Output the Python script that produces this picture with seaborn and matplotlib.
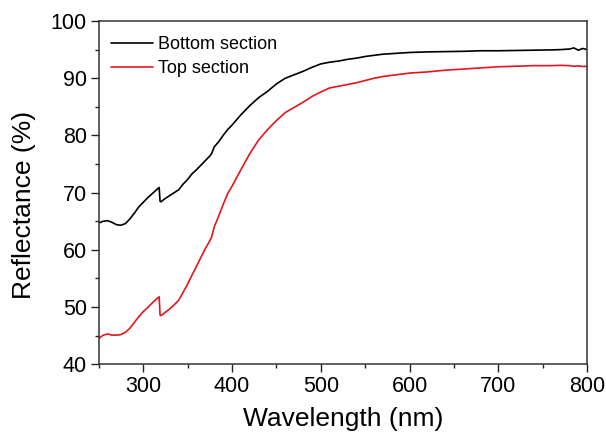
import numpy as np
import pandas as pd
import matplotlib
matplotlib.use("Agg")
import matplotlib.pyplot as plt
from matplotlib.ticker import MultipleLocator
import seaborn as sns

wavelength = [250, 255, 260, 265, 270, 275, 280, 285, 290, 295, 300, 305, 310, 315, 318, 319,
              320, 325, 330, 335, 340, 345, 350, 355, 360, 365, 370, 375, 377, 380, 385, 390,
              395, 400, 410, 420, 430, 440, 450, 460, 470, 480, 490, 500, 510, 520, 530, 540,
              550, 560, 570, 580, 590, 600, 620, 640, 660, 680, 700, 720, 740, 760, 770, 780,
              785, 790, 795, 800]

bottom_section = [64.7, 65.0, 65.1, 64.8, 64.4, 64.3, 64.6, 65.4, 66.4, 67.5, 68.3, 69.1, 69.8, 70.5, 70.9, 68.5,
                  68.4, 69.0, 69.5, 70.0, 70.5, 71.5, 72.3, 73.3, 74.0, 74.8, 75.6, 76.4, 76.8, 78.0, 78.9, 80.0,
                  81.0, 81.8, 83.6, 85.2, 86.6, 87.7, 89.0, 90.0, 90.6, 91.2, 91.9, 92.5, 92.8, 93.0, 93.3, 93.5,
                  93.8, 94.0, 94.2, 94.3, 94.4, 94.5, 94.6, 94.65, 94.7, 94.8, 94.8, 94.85, 94.9, 94.95, 95.0, 95.1,
                  95.3, 94.9, 95.2, 95.0]

top_section = [44.5, 45.1, 45.3, 45.1, 45.1, 45.2, 45.6, 46.3, 47.3, 48.3, 49.2, 49.9, 50.7, 51.4, 51.8, 48.6,
               48.5, 49.1, 49.7, 50.4, 51.2, 52.6, 54.0, 55.6, 57.1, 58.7, 60.2, 61.6, 62.2, 64.0, 65.9, 67.9,
               69.8, 71.1, 74.0, 76.8, 79.2, 81.0, 82.6, 84.0, 84.9, 85.8, 86.8, 87.6, 88.3, 88.6, 88.9, 89.2,
               89.6, 90.0, 90.3, 90.5, 90.7, 90.9, 91.1, 91.4, 91.6, 91.8, 92.0, 92.1, 92.2, 92.2, 92.25, 92.2,
               92.1, 92.15, 92.05, 92.1]

series_names = ["Bottom section", "Top section"]
series_colors = ["#000000", "#e3161b"]

df = pd.concat([
    pd.DataFrame({"Wavelength": wavelength, "Reflectance": bottom_section, "Series": series_names[0]}),
    pd.DataFrame({"Wavelength": wavelength, "Reflectance": top_section, "Series": series_names[1]}),
])

sns.set_theme(style="ticks")
plt.rcParams["font.family"] = ["Liberation Sans", "DejaVu Sans"]
plt.rcParams["text.color"] = "black"
plt.rcParams["axes.labelcolor"] = "black"

fig = plt.figure(figsize=(6.06, 4.34), dpi=100)
ax = fig.add_axes([0.163, 0.1606, 0.806, 0.791])

sns.lineplot(data=df, x="Wavelength", y="Reflectance", hue="Series",
             palette=dict(zip(series_names, series_colors)), linewidth=1.2, ax=ax, sort=False)

ax.set_xlim(250, 800)
ax.set_ylim(40, 100)
ax.xaxis.set_major_locator(MultipleLocator(100))
ax.xaxis.set_minor_locator(MultipleLocator(50))
ax.yaxis.set_major_locator(MultipleLocator(10))
ax.yaxis.set_minor_locator(MultipleLocator(5))
ax.tick_params(which="major", direction="out", length=5.5, width=1, labelsize=15.5, colors="#222222",
               labelcolor="black", pad=3)
ax.tick_params(which="minor", direction="out", length=3, width=1, colors="#222222")
for s in ax.spines.values():
    s.set_linewidth(1.1)
    s.set_color("#333333")

ax.set_xlabel("Wavelength (nm)", fontsize=19, labelpad=7, color="black")
ax.set_ylabel("Reflectance (%)", fontsize=19, color="black")
ax.yaxis.set_label_coords(-0.128, 0.463)

leg = ax.legend(loc="upper left", bbox_to_anchor=(0.025, 0.955), frameon=False, fontsize=13,
                handlelength=2.3, handletextpad=0.3, labelspacing=0.37, borderaxespad=0, borderpad=0)
for line in leg.get_lines():
    line.set_linewidth(1.2)
for t in leg.get_texts():
    t.set_color("black")

fig.savefig("out.png", dpi=100)
